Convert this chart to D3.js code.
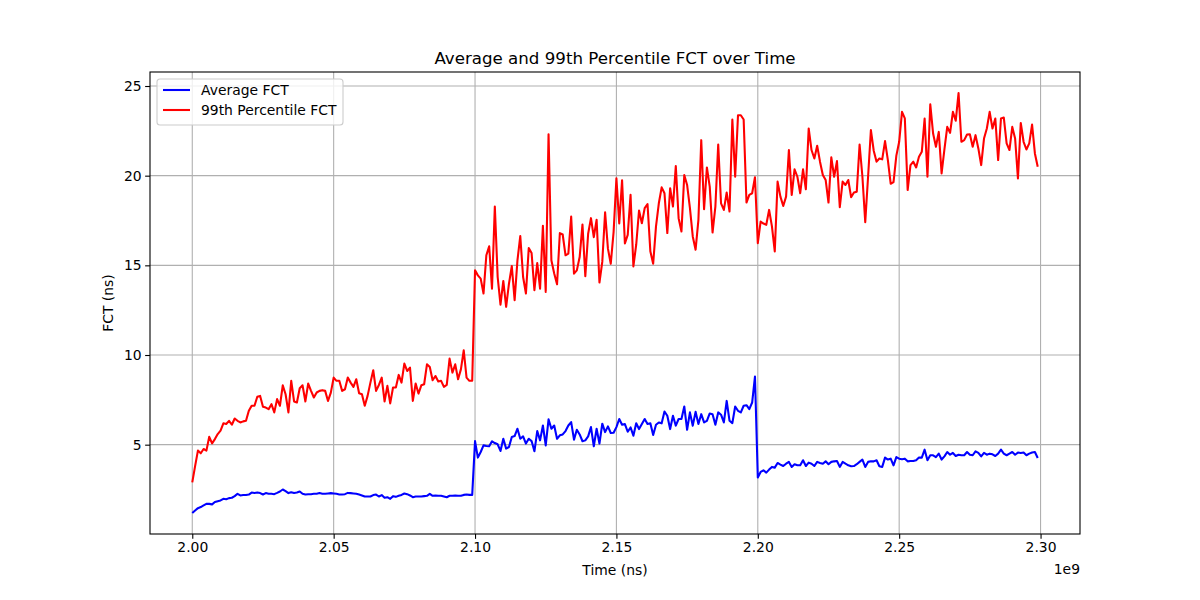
<!DOCTYPE html>
<html>
<head>
<meta charset="utf-8">
<script src="https://cdn.jsdelivr.net/npm/d3@7"></script>
<style>
  body { margin: 0; background: #ffffff; }
  text { font-family: "DejaVu Sans", sans-serif; fill: #000000; }
  .grid line { stroke: #b0b0b0; stroke-width: 1.1; }
  .axis path, .axis line { stroke: #000000; stroke-width: 1.1; }
</style>
</head>
<body>
<script>
//time axis: one sample every 1e6 ns starting at 2e9 ns
var startTime = 2.0e9,
    timeStep = 1.0e6;

//average flow completion time (ns)
var avgFct = [
  1.19,1.33,1.46,1.52,1.61,1.70,1.70,1.67,1.80,1.85,
  1.89,1.98,1.96,2.02,2.04,2.13,2.26,2.17,2.19,2.19,
  2.22,2.33,2.31,2.33,2.30,2.22,2.30,2.26,2.26,2.24,
  2.31,2.39,2.50,2.41,2.30,2.35,2.31,2.33,2.39,2.26,
  2.22,2.24,2.24,2.26,2.26,2.30,2.26,2.26,2.28,2.30,
  2.28,2.26,2.22,2.22,2.24,2.31,2.30,2.28,2.26,2.22,
  2.17,2.11,2.11,2.11,2.19,2.22,2.11,2.19,2.04,2.07,
  1.98,2.13,2.09,2.15,2.20,2.28,2.24,2.17,2.07,2.11,
  2.11,2.11,2.13,2.15,2.26,2.15,2.17,2.15,2.15,2.11,
  2.07,2.15,2.15,2.17,2.15,2.15,2.20,2.22,2.20,2.20,
  5.20,4.28,4.59,4.96,4.93,4.91,5.19,5.09,5.02,4.65,
  5.33,4.78,4.87,5.43,5.48,5.89,5.33,5.46,5.06,5.33,
  5.20,4.63,5.76,5.24,6.07,4.96,6.41,5.89,6.07,5.33,
  5.52,5.57,5.76,6.07,6.26,5.28,5.83,5.57,5.19,5.24,
  5.46,5.98,4.91,5.89,5.06,6.17,5.70,6.02,5.65,5.67,
  5.98,6.43,6.11,6.15,5.72,5.96,5.50,6.19,5.87,6.15,
  6.43,6.15,6.19,5.54,6.11,6.24,6.19,6.85,6.61,5.87,
  6.61,6.06,6.43,6.43,7.13,5.83,6.80,6.06,6.83,6.15,
  6.70,6.24,6.33,6.74,6.70,6.11,6.80,6.67,6.24,7.44,
  6.33,6.20,7.13,6.89,6.80,7.17,7.20,6.98,7.35,8.80,
  3.17,3.48,3.57,3.44,3.61,3.76,3.72,3.98,3.89,3.81,
  3.94,4.04,3.76,3.91,3.85,3.85,4.13,3.81,4.00,3.94,
  3.81,4.04,3.98,3.94,4.07,3.91,4.04,4.07,4.09,3.76,
  4.04,3.94,3.85,3.80,3.81,3.91,4.04,4.17,3.76,4.04,
  4.07,4.07,4.13,3.80,3.76,4.28,4.17,4.22,3.85,4.31,
  4.22,4.19,4.22,4.07,4.09,4.09,4.13,4.28,4.28,4.72,
  4.13,4.41,4.41,4.31,4.50,4.17,4.35,4.59,4.44,4.54,
  4.37,4.44,4.41,4.41,4.59,4.44,4.41,4.63,4.54,4.35,
  4.54,4.44,4.50,4.46,4.37,4.50,4.72,4.50,4.41,4.50,
  4.59,4.44,4.56,4.54,4.56,4.41,4.50,4.56,4.59,4.26
];

//99th percentile flow completion time (ns)
var p99Fct = [
  2.90,3.80,4.67,4.52,4.76,4.67,5.44,5.07,5.31,5.59,
  5.78,6.19,6.15,6.33,6.11,6.46,6.33,6.24,6.30,6.33,
  6.89,7.17,7.17,7.67,7.72,7.11,7.07,6.98,7.26,6.80,
  7.54,7.17,8.31,7.81,6.80,8.56,7.41,7.35,8.15,8.31,
  7.41,8.41,8.00,7.63,7.91,8.00,8.04,8.00,7.44,7.90,
  8.74,8.56,8.56,8.00,8.09,8.74,8.46,8.22,8.65,7.87,
  7.81,7.17,7.72,8.46,9.15,8.00,8.33,8.74,7.41,8.28,
  7.30,8.19,8.19,8.89,8.46,9.52,9.11,9.30,7.44,8.41,
  7.85,8.31,8.37,9.48,9.33,8.59,8.83,8.52,8.56,8.22,
  8.33,9.80,9.02,9.48,8.65,9.20,10.26,8.74,8.56,8.56,
  14.72,14.44,14.26,13.43,15.56,16.06,13.70,18.28,14.35,12.81,
  14.13,12.69,13.98,14.96,13.06,15.28,16.63,14.35,13.43,15.96,
  15.69,13.61,15.13,13.70,17.20,13.52,22.31,15.28,14.54,13.94,
  16.80,16.72,15.56,15.65,17.72,14.54,14.72,15.46,17.28,14.39,
  16.76,17.63,16.57,17.54,14.04,15.19,17.96,15.93,15.09,16.85,
  19.85,17.33,19.74,16.22,16.70,18.93,14.94,16.15,18.06,17.35,
  18.19,18.41,15.78,15.09,17.17,18.46,19.35,19.02,16.80,19.30,
  18.28,20.54,17.63,16.89,20.04,19.48,18.19,16.61,15.87,17.54,
  21.98,18.13,20.46,19.39,16.83,18.28,21.74,18.46,18.09,19.06,
  18.00,23.13,19.94,23.37,23.37,23.13,18.50,18.93,19.02,19.91,
  16.24,17.44,17.33,17.26,18.09,17.17,15.78,19.67,18.83,18.31,
  18.83,21.43,18.93,20.35,19.94,19.02,20.35,19.24,22.63,21.43,
  20.96,21.67,20.78,20.04,19.76,18.50,21.02,19.94,20.81,18.24,
  19.67,19.48,19.76,18.80,19.06,19.11,21.74,19.94,17.41,19.94,
  22.54,21.39,20.78,20.96,20.91,21.93,20.87,19.55,19.64,21.12,
  21.89,23.56,23.19,19.20,20.59,20.78,20.46,21.06,21.33,23.19,
  19.94,23.98,22.35,21.61,22.44,20.13,21.46,22.72,22.39,23.56,
  23.06,24.61,21.89,21.98,22.30,22.31,21.61,22.26,21.52,20.59,
  22.07,22.63,23.56,22.63,23.19,20.87,23.19,23.24,21.80,21.43,
  22.72,22.07,19.85,22.94,21.89,21.46,21.80,22.85,21.24,20.50
];

//tick values
var xTicks = [2.00e9, 2.05e9, 2.10e9, 2.15e9, 2.20e9, 2.25e9, 2.30e9];
var yTicks = [5, 10, 15, 20, 25];

//series names and colours for the legend
var seriesNames = ["Average FCT", "99th Percentile FCT"];
var seriesColors = ["#0000ff", "#ff0000"];

window.onload = drawChart();

function drawChart(){

    //figure and axes box (matplotlib default margins)
    var width = 1200,
        height = 600,
        left = 150,
        right = 1080,
        top = 72,
        bottom = 534;

    var svg = d3.select("body")
        .append("svg")
        .attr("width", width)
        .attr("height", height);

    var times = avgFct.map(function(d, i){ return startTime + i * timeStep; });

    //5% padding on both axes like matplotlib
    var xExt = d3.extent(times),
        xPad = (xExt[1] - xExt[0]) * 0.05;
    var yExt = d3.extent(avgFct.concat(p99Fct)),
        yPad = (yExt[1] - yExt[0]) * 0.05;

    var x = d3.scaleLinear()
        .domain([xExt[0] - xPad, xExt[1] + xPad])
        .range([left, right]);

    var y = d3.scaleLinear()
        .domain([yExt[0] - yPad, yExt[1] + yPad])
        .range([bottom, top]);

    //grid lines
    var grid = svg.append("g").attr("class", "grid");
    grid.selectAll(".gx")
        .data(xTicks)
        .enter()
        .append("line")
        .attr("x1", function(d){ return x(d); })
        .attr("x2", function(d){ return x(d); })
        .attr("y1", top)
        .attr("y2", bottom);
    grid.selectAll(".gy")
        .data(yTicks)
        .enter()
        .append("line")
        .attr("x1", left)
        .attr("x2", right)
        .attr("y1", function(d){ return y(d); })
        .attr("y2", function(d){ return y(d); });

    //lines
    var series = [avgFct, p99Fct];
    var line = d3.line()
        .x(function(d, i){ return x(times[i]); })
        .y(function(d){ return y(d); });

    svg.selectAll(".series")
        .data(series)
        .enter()
        .append("path")
        .attr("class", "series")
        .attr("fill", "none")
        .attr("stroke", function(d, i){ return seriesColors[i]; })
        .attr("stroke-width", 2.08)
        .attr("stroke-linejoin", "round")
        .attr("d", line);

    //axes
    var xAxis = d3.axisBottom(x)
        .tickValues(xTicks)
        .tickSize(4.86)
        .tickPadding(3.5)
        .tickFormat(function(d){ return (d / 1e9).toFixed(2); });

    var yAxis = d3.axisLeft(y)
        .tickValues(yTicks)
        .tickSize(4.86)
        .tickPadding(3.5)
        .tickFormat(d3.format("d"));

    var gx = svg.append("g")
        .attr("class", "axis")
        .attr("transform", "translate(0," + bottom + ")")
        .call(xAxis);
    gx.select(".domain").remove();

    var gy = svg.append("g")
        .attr("class", "axis")
        .attr("transform", "translate(" + left + ",0)")
        .call(yAxis);
    gy.select(".domain").remove();

    svg.selectAll(".axis text")
        .style("font-size", "13.9px")
        .style("font-family", "DejaVu Sans, sans-serif")
        .attr("fill", "#000");

    //axes frame
    svg.append("rect")
        .attr("x", left)
        .attr("y", top)
        .attr("width", right - left)
        .attr("height", bottom - top)
        .attr("fill", "none")
        .attr("stroke", "#000")
        .attr("stroke-width", 1.1);

    //offset label for the x axis
    svg.append("text")
        .attr("x", right)
        .attr("y", 574)
        .attr("text-anchor", "end")
        .style("font-size", "13.9px")
        .text("1e9");

    //title and labels
    svg.append("text")
        .attr("x", (left + right) / 2)
        .attr("y", 64)
        .attr("text-anchor", "middle")
        .style("font-size", "16.67px")
        .text("Average and 99th Percentile FCT over Time");

    svg.append("text")
        .attr("x", (left + right) / 2)
        .attr("y", 575)
        .attr("text-anchor", "middle")
        .style("font-size", "13.9px")
        .text("Time (ns)");

    svg.append("text")
        .attr("transform", "translate(113," + (top + bottom) / 2 + ") rotate(-90)")
        .attr("text-anchor", "middle")
        .style("font-size", "13.9px")
        .text("FCT (ns)");

    //legend
    var legend = svg.append("g")
        .attr("transform", "translate(157,79)");

    legend.append("rect")
        .attr("width", 186)
        .attr("height", 46)
        .attr("rx", 3)
        .attr("fill", "#ffffff")
        .attr("fill-opacity", 0.8)
        .attr("stroke", "#cccccc")
        .attr("stroke-width", 1.1);

    var items = legend.selectAll(".item")
        .data(seriesNames)
        .enter()
        .append("g")
        .attr("transform", function(d, i){ return "translate(0," + (11 + i * 20) + ")"; });

    items.append("line")
        .attr("x1", 6)
        .attr("x2", 33)
        .attr("stroke", function(d, i){ return seriesColors[i]; })
        .attr("stroke-width", 2.08);

    items.append("text")
        .attr("x", 44)
        .attr("dy", "0.35em")
        .style("font-size", "13.9px")
        .text(function(d){ return d; });
};
</script>
</body>
</html>
